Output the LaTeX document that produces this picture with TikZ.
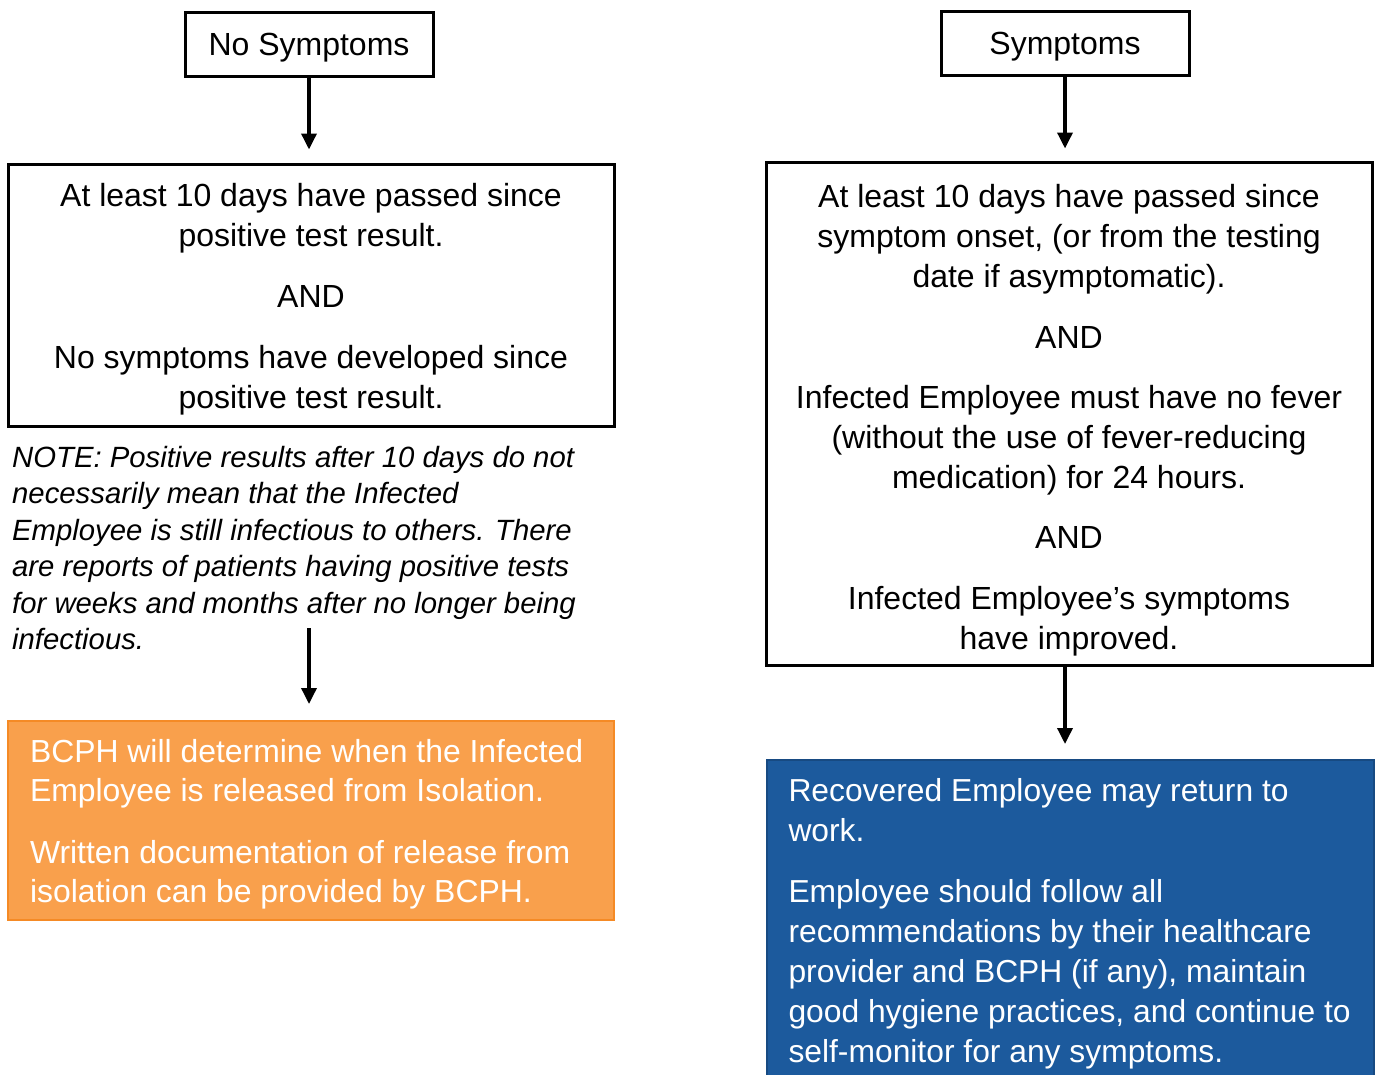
\documentclass[tikz,border=0pt]{standalone}
\usepackage{fontspec}
\setmainfont{Liberation Sans}
\usetikzlibrary{positioning, arrows.meta}
\definecolor{releaseorange}{HTML}{F9A04C}
\definecolor{releaseorangeline}{HTML}{F58A25}
\definecolor{returnblue}{HTML}{1C5A9D}
\definecolor{returnblueline}{HTML}{174A82}

\begin{document}
\begin{tikzpicture}[x=1pt, y=-1pt,
		textdrop/.style={execute at begin node={\rule{0pt}{#1}}},
		box/.style={draw=black, line width=3pt, align=center, inner sep=0pt,
			font=\fontsize{32}{40}\selectfont},
		startbox/.style={box, minimum width=248, minimum height=64, textdrop=29.5pt},
		critbox/.style={box, align=flush center, minimum width=606, text width=590},
		outcome/.style={text=white, align=flush left, inner xsep=22pt, inner ysep=0pt,
			textdrop=31.5pt},
		flow/.style={line width=3.5pt, -{Triangle[width=15pt,length=16pt]}}]
		\useasboundingbox (0, 0) rectangle (1375, 1074);
		
		% Left column: no symptoms
		\node[startbox] (nosym) at (309, 44) {No Symptoms};
		\node[critbox, minimum height=262, textdrop=31.5pt] (nosymcrit) at (311, 295)
		{At least 10 days have passed since\\ positive test result.\\[21pt]
			AND\\[21pt]
			No symptoms have developed since\\ positive test result.};
		\node[anchor=north west, align=left, inner sep=0pt,
		font=\fontsize{29.3}{36.5}\selectfont\itshape] (note) at (12, 446)
		{NOTE: Positive results after 10 days do not\\
			necessarily mean that the Infected\\
			Employee is still infectious to others. There\\
			are reports of patients having positive tests\\
			for weeks and months after no longer being\\
			infectious.};
		\coordinate (notearrow) at (309, 628);
		\node[outcome, fill=releaseorange, draw=releaseorangeline, line width=2pt,
		minimum width=606, minimum height=199, text width=562,
		font=\fontsize{31.9}{39}\selectfont] (release) at (311, 820.5)
		{BCPH will determine when the Infected\\
			Employee is released from Isolation.\\[23pt]
			Written documentation of release from\\
			isolation can be provided by BCPH.};
		
		% Right column: symptoms
		\node[startbox] (sym) at (1065, 43) {Symptoms};
		\node[critbox, minimum height=503, textdrop=36.5pt] (symcrit) at (1069, 413.5)
		{At least 10 days have passed since\\
			symptom onset, (or from the testing\\
			date if asymptomatic).\\[21pt]
			AND\\[20pt]
			Infected Employee must have no fever\\
			(without the use of fever-reducing\\
			medication) for 24 hours.\\[20pt]
			AND\\[21pt]
			Infected Employee’s symptoms\\
			have improved.};
		\node[outcome, fill=returnblue, draw=returnblueline, line width=2pt,
		minimum width=607, minimum height=320, text width=563,
		font=\fontsize{31.8}{40}\selectfont] (return) at (1070, 920)
		{Recovered Employee may return to\\
			work.\\[21pt]
			Employee should follow all\\
			recommendations by their healthcare\\
			provider and BCPH (if any), maintain\\
			good hygiene practices, and continue to\\
			self-monitor for any symptoms.};
		
		% Arrows
		\draw[flow, shorten >=13pt] (nosym) -- (nosym |- nosymcrit.north);
		\draw[flow, shorten >=16pt] (notearrow) -- (notearrow |- release.north);
		\draw[flow, shorten >=12pt] (sym) -- (sym |- symcrit.north);
		\draw[flow, shorten >=15pt] (sym |- symcrit.south) -- (sym |- return.north);
	\end{tikzpicture}
\end{document}
